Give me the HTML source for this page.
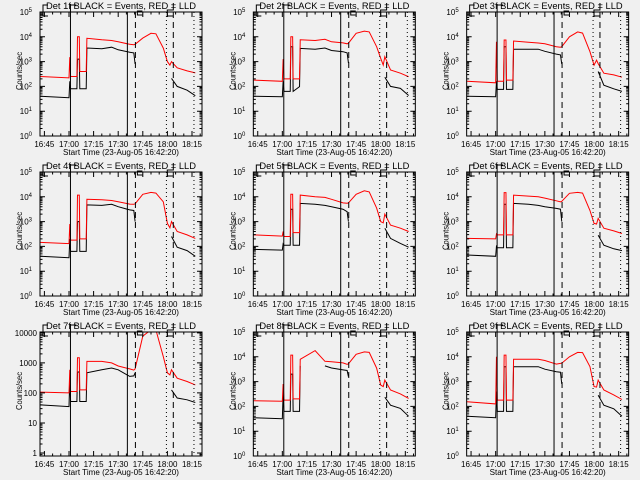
<!DOCTYPE html>
<html><head><meta charset="utf-8"><style>
html,body{margin:0;padding:0;background:#f0f0f0;}
svg{display:block;font-family:"Liberation Sans",sans-serif;}
</style></head><body>
<svg id="chart" width="640" height="480" viewBox="0 0 640 480" xmlns="http://www.w3.org/2000/svg">
<rect width="640" height="480" fill="#f0f0f0"/>
</svg>
<script>
// time knots in minutes after 16:00
const times = [42.5,60,60.5,61,64.8,65.2,66.3,66.6,70.5,70.9,80,86,90,97,99.5,100.3,105,110,113,117.5,120,121.5,122.5,126,132,137];
const N = null;
const det1Red = [250,220,1500,250,250,10000,10000,400,400,8700,7600,7100,6300,5000,4800,5000,8900,13800,13200,3500,1000,720,1000,560,420,350];
const det1Black = [40,35,160,80,80,1260,1260,80,80,3550,3300,3800,3000,2400,2240,800,N,N,N,N,N,N,210,100,70,42];
const det2Red = [180,160,1260,200,200,10000,10000,200,200,7600,7100,7900,6300,5700,5200,5500,13800,17000,15800,4000,1350,720,1580,460,340,245];
const det2Black = [40,38,160,63,63,4000,4000,63,98,3400,3160,3550,2800,2500,2240,890,N,N,N,N,N,N,235,100,83,43];
const det3Red = [160,140,6300,160,160,7400,7400,180,180,6800,6000,5600,5200,4000,3800,4000,10000,15800,14100,2500,720,1150,830,340,290,235];
const det3Black = [40,38,160,76,76,4000,4000,76,76,3160,3160,3160,2600,2000,1860,800,N,N,N,N,N,N,400,112,80,63];
const det4Red = [145,130,800,180,180,11700,11700,200,200,7900,7600,7100,6300,5100,5000,5200,12600,15100,14100,6300,850,560,1000,400,290,210];
const det4Black = [40,35,200,63,63,1000,1000,63,63,4700,4500,5000,4000,2950,2800,1000,N,N,N,N,N,N,250,93,68,40];
const det5Red = [290,260,400,250,250,12600,12600,360,360,11700,10000,9500,7900,5700,5500,5700,12600,17400,15800,3500,1000,890,2000,720,540,400];
const det5Black = [76,71,126,112,112,3160,3160,112,112,5400,5000,4500,4000,3160,2500,1000,N,N,N,N,N,N,540,210,132,93];
const det6Red = [210,200,320,290,290,14800,14800,290,290,11700,10700,10000,8900,6900,6300,6600,13800,15100,14100,2800,850,800,1350,540,420,330];
const det6Black = [45,40,100,89,89,5000,5000,89,89,5400,5000,4500,4000,3400,3160,1000,N,N,N,N,N,N,280,112,80,68];
const det7Red = [107,100,590,112,112,1480,1480,126,126,1120,1120,1000,790,630,575,630,7800,12600,12600,1620,470,400,590,310,240,186];
const det7Black = [40,35,320,52,52,500,500,52,52,470,590,680,590,355,370,470,N,N,N,N,N,N,126,68,59,48];
const det8Red = [170,160,800,180,180,11700,11700,200,200,7900,17800,6600,6300,5700,5000,5200,12600,15800,15100,3500,720,630,1150,460,320,210];
const det8Black = [35,32,320,63,63,2000,2000,63,63,4300,N,4300,3550,2950,2800,1580,N,N,N,N,N,N,235,112,83,40];
const det9Red = [155,126,10000,180,180,11700,11700,180,180,7900,7900,7900,7100,5100,5400,5500,10000,15100,14800,4000,630,600,1150,460,290,190];
const det9Black = [40,35,400,63,63,4000,4000,63,63,4000,4000,4000,3160,2500,2400,800,N,N,N,N,N,N,280,112,80,40];
const xTickMinutes = [45,60,75,90,105,120,135];
const xTickLabels = ["16:45","17:00","17:15","17:30","17:45","18:00","18:15"];
const markerMinutes = {solid:[60.9,95.6], dashed:[100.5,123.6], dotted:[119.4,136.2]};

const reds=[det1Red,det2Red,det3Red,det4Red,det5Red,det6Red,det7Red,det8Red,det9Red];
const blacks=[det1Black,det2Black,det3Black,det4Black,det5Black,det6Black,det7Black,det8Black,det9Black];
const NS="http://www.w3.org/2000/svg";
const svg=document.getElementById('chart');
function mk(tag,attrs,parent){const e=document.createElementNS(NS,tag);for(const k in attrs)e.setAttribute(k,attrs[k]);parent.appendChild(e);return e;}
const X0=40,X1=202,Y0=12,Y1=136,T0=42.33,T1=141.1;
function xs(t){return X0+(t-T0)/(T1-T0)*(X1-X0);}

for(let p=0;p<9;p++){
  const col=p%3,row=Math.floor(p/3);
  const g=mk('g',{transform:`translate(${(col*213.33).toFixed(2)},${row*160})`},svg);
  
  
  const lmin = p===6?-0.1:0, lmax = p===6?4.03:5;
  const ys=v=>Y1-(Math.log10(v)-lmin)/(lmax-lmin)*(Y1-Y0);
  const cp=mk('clipPath',{id:'cp'+p},g); mk('rect',{x:X0,y:Y0,width:X1-X0,height:Y1-Y0},cp);
  // series
  [[blacks[p],'#000','black-events-series'],[reds[p],'#ff0000','red-lld-series']].forEach(([arr,c,nm])=>{
    let d='',pen=false;
    for(let i=0;i<times.length;i++){
      if(arr[i]===null){pen=false;continue;}
      d+=(pen?'L':'M')+xs(times[i]).toFixed(1)+','+ys(arr[i]).toFixed(1);pen=true;
    }
    const pa=mk('path',{d:d,fill:'none',stroke:c,'stroke-width':1,'clip-path':`url(#cp${p})`},g);
    
    
  });
  // marker lines
  const styles={solid:'',dashed:'6,4',dotted:'1,3'};
  for(const k in markerMinutes){markerMinutes[k].forEach(t=>{
    const l=mk('line',{x1:xs(t),x2:xs(t),y1:Y0,y2:Y1,stroke:'#000','stroke-width':1,'stroke-dasharray':styles[k]},g);
    
    
  });}
  // top bracket marks
  const br=mk('path',{d:`M48,5H43V16H48 M${xs(60.9)},12V5H${xs(60.9)+6} M${xs(100.5)+7},11H${xs(100.5)+2}V15H${xs(100.5)+7} M${xs(123.6)},3V10H${xs(123.6)-6}V16H${xs(123.6)}`,fill:'none',stroke:'#000','stroke-width':1},g);
  
  
  // frame
  const fr=mk('rect',{x:X0,y:Y0,width:X1-X0,height:Y1-Y0,fill:'none',stroke:'#000','stroke-width':1},g);
  
  
  // x ticks
  let td='';
  for(let m=45;m<=140;m+=5){const x=xs(m).toFixed(1);const L=(m%15===0)?5:2.5;td+=`M${x},${Y1}V${Y1-L}M${x},${Y0}V${Y0+L}`;}
  // y ticks
  for(let dec=Math.floor(lmin);dec<=Math.ceil(lmax);dec++){for(let k=1;k<10;k++){const lv=dec+Math.log10(k);if(lv<lmin||lv>lmax)continue;const y=ys(Math.pow(10,lv)).toFixed(1);const L=k===1?5:2.5;td+=`M${X0},${y}H${X0+L}M${X1},${y}H${X1-L}`;}}
  const tk=mk('path',{d:td,stroke:'#000','stroke-width':1,fill:'none'},g);
  
  
  xTickMinutes.forEach((m,i)=>{
    const t=mk('text',{x:xs(m),y:147,'font-size':8,'text-anchor':'middle'},g);t.textContent=xTickLabels[i];
    
    
  });
  for(let dec=Math.ceil(lmin);dec<=Math.floor(lmax);dec++){
    const y=ys(Math.pow(10,dec));
    const t=mk('text',{x:37,y:y+3,'font-size':8,'text-anchor':'end'},g);
    if(p===6){t.textContent=String(Math.pow(10,dec));}
    else{t.textContent='10';const s=mk('tspan',{'font-size':6,dy:-3},t);s.textContent=String(dec);t.setAttribute('x',32);}
    
    
  }
  const ti=mk('text',{x:121,y:9,'font-size':9,'text-anchor':'middle',textLength:150,lengthAdjust:'spacingAndGlyphs'},g);
  ti.textContent=`Det ${p+1}f BLACK = Events, RED = LLD`;
  
  
  const xt=mk('text',{x:121,y:155,'font-size':8,'text-anchor':'middle',textLength:116,lengthAdjust:'spacingAndGlyphs'},g);
  xt.textContent='Start Time (23-Aug-05 16:42:20)';
  
  
  const yt=mk('text',{x:0,y:0,'font-size':8,'text-anchor':'middle',transform:'translate(22,71) rotate(-90)',textLength:38,lengthAdjust:'spacingAndGlyphs'},g);
  yt.textContent='Counts/sec';
  
  
}
</script>
</body></html>
